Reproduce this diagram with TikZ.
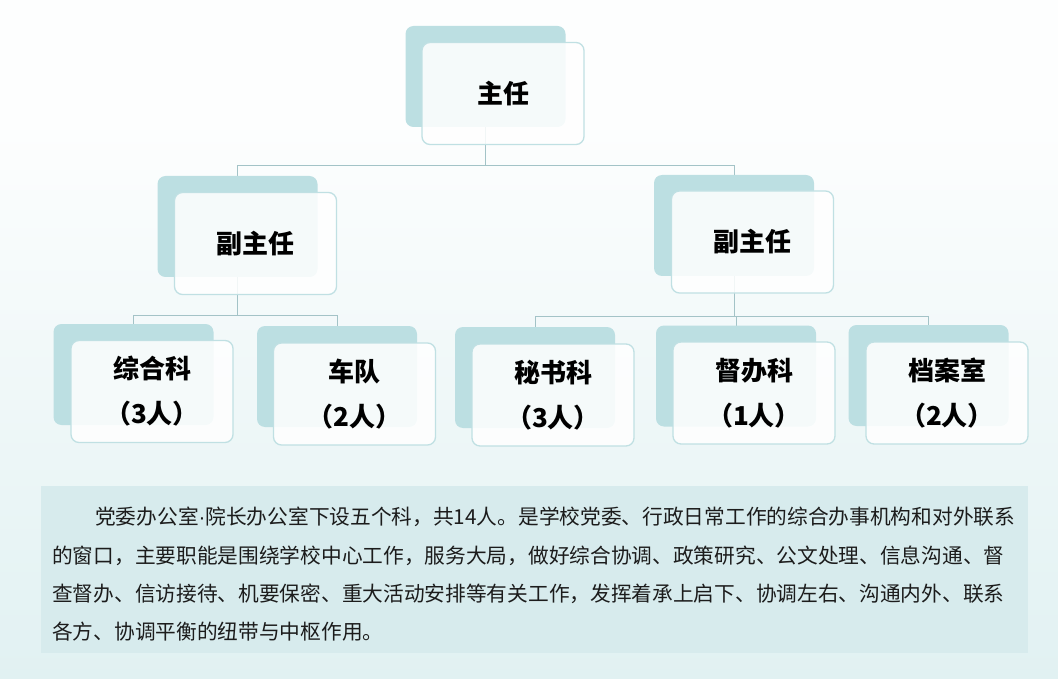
\documentclass[tikz,border=0pt]{standalone}
\usepackage{fontspec}
\newfontfamily\cjk{Noto Sans CJK SC}
\newfontfamily\latn{Liberation Sans}
\definecolor{backc}{HTML}{BCDFE2}
\definecolor{edgec}{HTML}{C0E0E3}
\definecolor{connc}{HTML}{A3C3C7}
\definecolor{boxfill}{HTML}{D7EBED}
\definecolor{bgtop}{HTML}{FDFEFE}
\definecolor{bgbot}{HTML}{E1F1F2}
\definecolor{txtc}{HTML}{1C1C1C}
\pgfdeclarelayer{bgl}
\pgfdeclarelayer{lines}
\pgfsetlayers{bgl,lines,main}
\tikzset{
  backbox/.style={fill=backc, rounded corners=8pt, minimum width=160pt, minimum height=101pt, inner sep=0pt},
  frontbox/.style={draw=edgec, line width=1.3pt, fill=white, fill opacity=0.85, text opacity=1,
     rounded corners=8pt, minimum width=162pt, minimum height=102pt, inner sep=0pt,
     align=center, font=\cjk\bfseries\fontsize{26}{45}\selectfont, text=black},
  conn/.style={draw=connc, line width=1pt},
  bodyline/.style={anchor=west, inner sep=0pt, font=\cjk\fontsize{20.7}{24}\selectfont, text=txtc}
}
\begin{document}
\begin{tikzpicture}[x=1pt,y=-1pt]
\useasboundingbox (0,0) rectangle (1058,679);
\begin{pgfonlayer}{bgl}
  \fill[bgtop] (0,0) rectangle (1058,120);
  \shade[top color=bgtop, bottom color=bgbot] (0,120) rectangle (1058,679);
  \fill[boxfill] (41,486) rectangle (1028,653);
\end{pgfonlayer}

% back boxes
\node[backbox] (topb) at (485.5,76.5) {};
\node[backbox] (lvpb) at (237.5,226.5) {};
\node[backbox] (rvpb) at (734,225.5) {};
\node[backbox] (zhb) at (133.5,374.5) {};
\node[backbox] (cdb) at (337,376.5) {};
\node[backbox] (msb) at (535,377.5) {};
\node[backbox] (dbb) at (736,376) {};
\node[backbox] (dab) at (928.5,375.5) {};

% front boxes
\node[frontbox] (topf) at (503,93.5) {主任};
\node[frontbox] (lvpf) at (255.5,243.5) {副主任};
\node[frontbox] (rvpf) at (752.5,242) {副主任};
\node[frontbox] (zhf) at (152,391.5) {综合科\\（3人）};
\node[frontbox] (cdf) at (354.5,394) {车队\\（2人）};
\node[frontbox] (msf) at (553,395) {秘书科\\（3人）};
\node[frontbox] (dbf) at (754,393) {督办科\\（1人）};
\node[frontbox] (daf) at (947,393) {档案室\\（2人）};

% connectors
\coordinate (bus0) at (0,166);
\coordinate (busL) at (0,315);
\coordinate (busR) at (0,316);
\begin{pgfonlayer}{lines}
  \draw[conn] (topb.center) -- (topb.center |- bus0) -| (lvpb.center);
  \draw[conn] (topb.center |- bus0) -| (rvpb.center);
  \draw[conn] (lvpb.center) -- (lvpb.center |- busL) -| (zhb.center);
  \draw[conn] (lvpb.center |- busL) -| (cdb.center);
  \draw[conn] (rvpb.center) -- (rvpb.center |- busR) -| (msb.center);
  \draw[conn] (rvpb.center |- busR) -| (dbb.center);
  \draw[conn] (rvpb.center |- busR) -| (dab.center);
\end{pgfonlayer}

% body text
\node[bodyline] (l1) at (95,517) {党委办公室{\latn ·}院长办公室下设五个科，共14人。是学校党委、行政日常工作的综合办事机构和对外联系};
\node[bodyline] (l2) at (52,556) {的窗口，主要职能是围绕学校中心工作，服务大局，做好综合协调、政策研究、公文处理、信息沟通、督};
\node[bodyline] (l3) at (52,594) {查督办、信访接待、机要保密、重大活动安排等有关工作，发挥着承上启下、协调左右、沟通内外、联系};
\node[bodyline] (l4) at (52,632) {各方、协调平衡的纽带与中枢作用。};
\end{tikzpicture}
\end{document}
